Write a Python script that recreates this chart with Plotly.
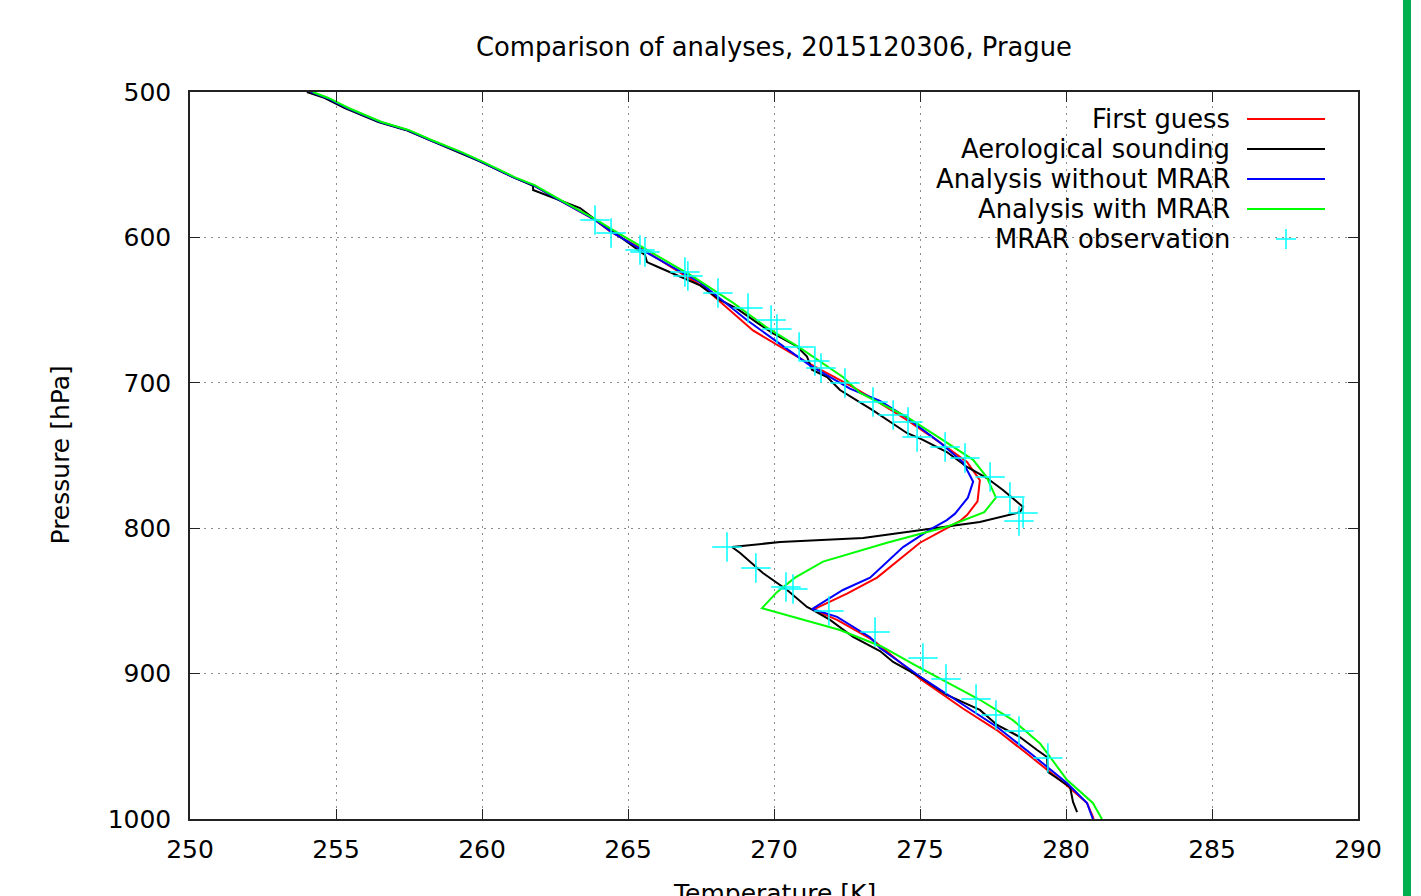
import plotly.graph_objects as go

# ---------------- data ----------------
series_names = ["First guess", "Aerological sounding", "Analysis without MRAR",
                "Analysis with MRAR", "MRAR observation"]

top_p = [500, 504.1, 511, 520.6, 526.1, 533, 541.3, 547.5, 558.5, 564, 575.7, 588]
top_t = [254.15, 254.69, 255.38, 256.51, 257.43, 258.22, 259.25, 259.93, 261.06, 261.75,
         262.77, 263.87]

fg_p = top_p + [596, 610, 634, 664, 686, 703, 714, 725.6, 741,
                754.5, 767, 781.5, 791, 795, 800, 810, 834, 845, 856, 863, 877, 903.5, 924,
                939, 955, 977, 989, 1000]
fg_t = top_t + [264.4, 265.65, 267.57, 269.28, 271.13,
                272.71, 273.63, 274.55, 275.68, 276.61, 277.05, 276.97, 276.61, 276.37, 275.92,
                275.0, 273.53, 272.5, 271.34, 272.16, 273.39, 275.0, 276.47, 277.64, 278.66,
                280.03, 280.72, 280.95]

snd_p = [500, 504, 511, 520.6, 526.1, 533, 541.3, 547.5, 558.5, 564.6, 567.4, 579.8, 588,
         596, 612, 617, 620, 627,
         633, 643, 649, 660, 666, 675, 682, 691, 696, 705, 719, 734.5, 739.3, 747.6,
         757.9, 765.5, 773.7, 785.4, 789, 795.7, 801.2, 806.7, 809.5, 812.9, 817.1,
         830.8, 842.5, 854.2, 856.3, 863.1, 874.8, 884.5, 892, 902.3, 914.7, 925,
         935.3, 943.6, 952.5, 957.4, 967.7, 973.2, 978, 988.3, 995.2]
snd_t = [254.0, 254.6, 255.3, 256.45, 257.38, 258.18, 259.2, 259.9, 261.06, 261.75, 261.75,
         263.36, 263.9,
         264.49, 265.58, 265.65, 265.99, 266.78, 267.47, 268.15, 268.73, 269.52, 269.97,
         270.79, 271.13, 271.30, 271.82, 272.26, 273.39, 274.55, 275.10, 275.92, 276.61,
         277.29, 277.84, 278.53, 278.42, 277.05, 275.0, 273.05, 270.21, 268.56, 268.84,
         269.62, 270.45, 271.13, 271.34, 271.92, 272.71, 273.63, 274.08, 275.0, 275.92,
         277.05, 277.64, 278.42, 279.01, 279.35, 279.38, 279.79, 280.14, 280.24, 280.38]

anw_p = top_p + [596, 609, 631, 657, 688, 704, 712.5, 724, 741,
                 754.5, 768, 779, 790, 794.4, 801, 813, 834, 842.5, 855.6, 861, 875, 882.4, 902,
                 921.6, 936.7, 954.6, 975.2, 989, 1000]
anw_t = top_t + [264.42, 265.51, 267.47, 269.08,
                 271.23, 272.6, 273.63, 274.55, 275.68, 276.47, 276.82, 276.64, 276.2, 275.92,
                 275.34, 274.42, 273.29, 272.36, 271.30, 272.16, 273.29, 273.63, 275.0, 276.47,
                 277.64, 278.77, 280.03, 280.72, 280.92]

am_p = top_p + [595, 607, 627, 645, 662, 676, 696, 707, 723.5,
                738, 753, 765, 779, 789, 799, 810, 823, 834, 844, 855, 870, 881.5, 896, 918,
                932, 948, 973, 989, 1000]
am_t = [254.2, 254.74, 255.43, 256.56, 257.48, 258.27, 259.3, 259.98, 261.11, 261.8,
        262.82, 263.92] + [264.49, 265.51, 267.23, 268.6,
                           269.76, 270.89, 272.36, 272.95, 274.55, 275.68, 276.82, 277.29,
                           277.6, 277.2, 275.92, 273.87, 271.68, 270.72, 270.1, 269.59,
                           272.26, 273.7, 275.0, 277.05, 278.18, 279.11, 280.03, 280.92,
                           281.23]

obs_p = [588.0, 597.0, 608.7, 610.0, 623.8, 626.5, 638.2, 648.6, 656.8, 663.0, 675.4,
         685.0, 689.8, 700.1, 713.2, 722.1, 727.0, 737.3, 744.2, 751.7, 764.8, 778.5,
         789.5, 795.0, 812.9, 827.4, 840.4, 841.8, 856.9, 871.4, 889.3, 903.7, 917.5,
         928.5, 939.5, 958.0]
obs_t = [263.87, 264.42, 265.41, 265.58, 266.95, 267.05, 268.08, 269.11, 269.90, 270.10,
         270.86, 271.40, 271.61, 272.43, 273.39, 274.08, 274.59, 274.90, 275.86, 276.54,
         277.40, 278.08, 278.53, 278.39, 268.39, 269.38, 270.41, 270.65, 271.88, 273.46,
         275.10, 275.89, 276.92, 277.60, 278.39, 279.38]

x_ticks = [250, 255, 260, 265, 270, 275, 280, 285, 290]
y_ticks = [500, 600, 700, 800, 900, 1000]

line_colors = ["#ff0000", "#000000", "#0000ff", "#00ff00"]
obs_color = "#00ffff"

FONT = "DejaVu Sans"
FS = 25
FS_TXT = 25.8

# ---------------- figure ----------------
fig = go.Figure()
for name, t, p, c in zip(series_names[:4], [fg_t, snd_t, anw_t, am_t],
                         [fg_p, snd_p, anw_p, am_p], line_colors):
    fig.add_trace(go.Scatter(x=t, y=p, mode="lines", name=name,
                             line=dict(color=c, width=2), showlegend=False))
fig.add_trace(go.Scatter(x=obs_t, y=obs_p, mode="markers", name=series_names[4],
                         marker=dict(symbol="cross-thin", size=21,
                                     line=dict(color=obs_color, width=1.5)),
                         showlegend=False))

# plot area in pixels
L, R, T, B = 190, 1358, 92, 819
W, H = 1421, 896
pw, ph = R - L, B - T


def px(xp):
    return (xp - L) / pw


def py(yp):
    return 1 - (yp - T) / ph


shapes = []
annotations = []

# opaque legend box (hides grid behind the key)
shapes.append(dict(type="rect", xref="paper", yref="paper", layer="between",
                   x0=px(880), x1=px(1345), y0=py(252), y1=py(98),
                   fillcolor="white", line=dict(width=0)))

# gnuplot-style key: text right-aligned, sample on the right
rows = [119, 149, 179, 209, 239]
for i, name in enumerate(series_names):
    annotations.append(dict(text=name, xref="paper", yref="paper", x=px(1232),
                            y=py(rows[i]), xanchor="right", yanchor="middle",
                            showarrow=False,
                            font=dict(family=FONT, size=FS_TXT, color="black")))
    if i < 4:
        shapes.append(dict(type="line", xref="paper", yref="paper",
                           x0=px(1247), x1=px(1325), y0=py(rows[i]), y1=py(rows[i]),
                           line=dict(color=line_colors[i], width=2)))
    else:
        shapes.append(dict(type="line", xref="paper", yref="paper",
                           x0=px(1276), x1=px(1296), y0=py(rows[i]), y1=py(rows[i]),
                           line=dict(color=obs_color, width=1.5)))
        shapes.append(dict(type="line", xref="paper", yref="paper",
                           x0=px(1286), x1=px(1286), y0=py(rows[i] - 10),
                           y1=py(rows[i] + 10),
                           line=dict(color=obs_color, width=1.5)))

# green strip at the right edge of the page
shapes.append(dict(type="rect", xref="paper", yref="paper", layer="above",
                   x0=px(1403), x1=px(1411), y0=py(H), y1=py(0),
                   fillcolor="#00b050", line=dict(width=0)))

# axis titles
annotations.append(dict(text="Pressure [hPa]", xref="paper", yref="paper",
                        x=px(60), y=0.5, xanchor="center", yanchor="middle",
                        textangle=-90, showarrow=False,
                        font=dict(family=FONT, size=FS, color="black")))
annotations.append(dict(text="Temperature [K]", xref="paper", yref="paper",
                        x=0.5, y=py(877), xanchor="center", yanchor="top",
                        showarrow=False, font=dict(family=FONT, size=FS, color="black")))

axis_common = dict(showline=True, linecolor="#222222", linewidth=1.5, mirror="ticks",
                   ticks="inside", ticklen=10, tickwidth=1, tickcolor="#222222",
                   showgrid=True, gridcolor="#8c8c8c", gridwidth=1, griddash="2px,5px",
                   zeroline=False, tickfont=dict(family=FONT, size=FS, color="black"))

fig.update_layout(
    width=W, height=H,
    margin=dict(l=L, r=W - R, t=T, b=H - B, autoexpand=False),
    paper_bgcolor="white", plot_bgcolor="white",
    title=dict(text="Comparison of analyses, 2015120306, Prague", x=0.5, xref="paper",
               xanchor="center", y=1 - 47 / H, yanchor="middle",
               font=dict(family=FONT, size=FS_TXT, color="black")),
    xaxis=dict(range=[250, 290], tickvals=x_ticks, ticktext=[str(v) for v in x_ticks],
               ticklabelstandoff=7, **axis_common),
    yaxis=dict(range=[1000, 500], tickvals=y_ticks, ticktext=[str(v) for v in y_ticks],
               ticklabelstandoff=12, **axis_common),
    shapes=shapes, annotations=annotations, showlegend=False,
)

fig.write_html("out.html", config={"displayModeBar": False},
               post_script="document.body.style.margin='0px';"
                           "document.body.style.overflow='hidden';")
